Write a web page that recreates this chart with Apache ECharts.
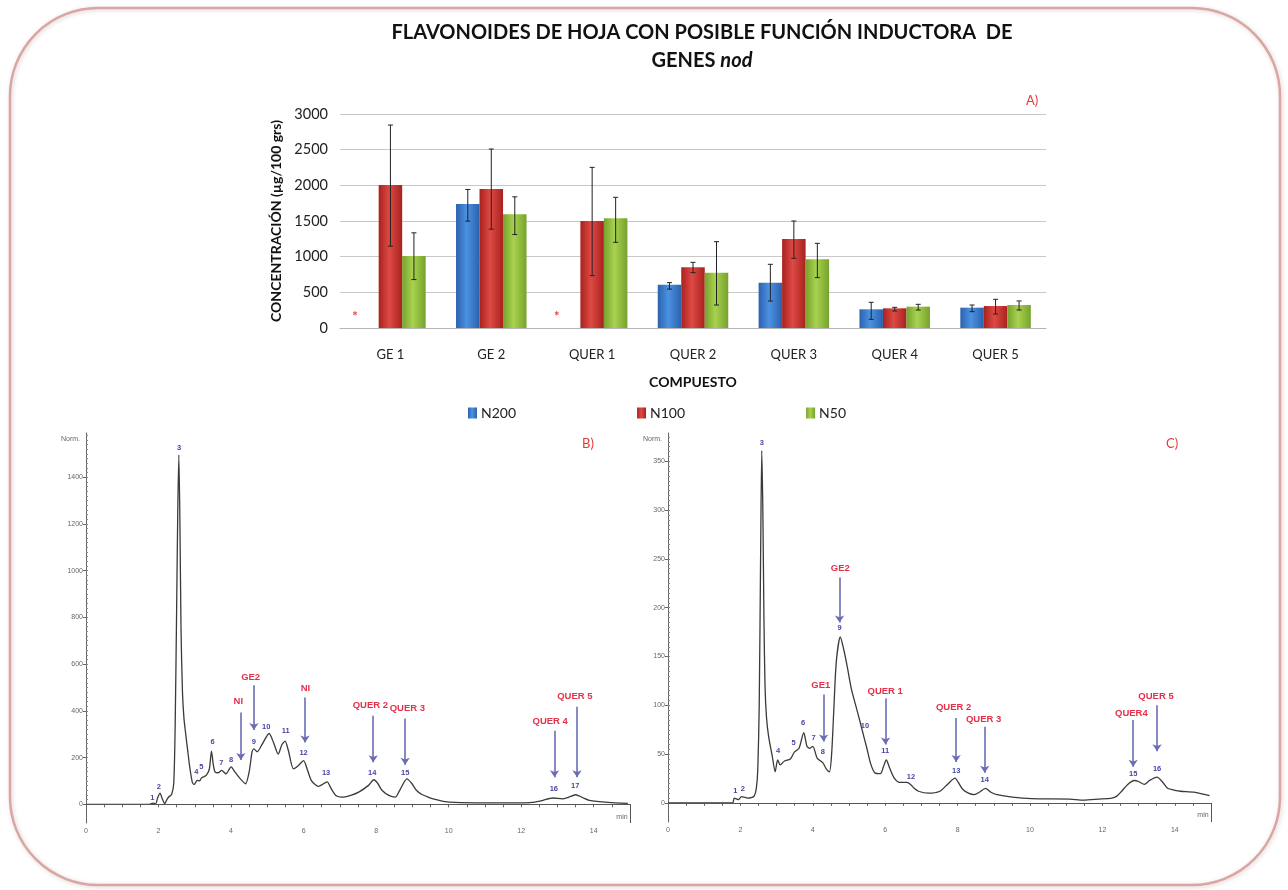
<!DOCTYPE html>
<html><head><meta charset="utf-8">
<script src="https://cdn.jsdelivr.net/npm/echarts@6/dist/echarts.min.js"></script>
<style>html,body{margin:0;padding:0;background:#fff}#c{width:1288px;height:890px}</style>
</head><body><div id="c"></div>
<script>
// ---------- Panel A: bar chart data ----------
const categories = ['GE 1','GE 2','QUER 1','QUER 2','QUER 3','QUER 4','QUER 5'];
const seriesNames = ['N200','N100','N50'];
const n200     = [null,1740,null, 605, 636,262,285];
const n200Low  = [null,1498,null, 545, 378,121,229];
const n200High = [null,1942,null, 636, 893,360,322];
const n100     = [2005,1950,1500, 850,1248,276,308];
const n100Low  = [1147,1385, 734, 776, 977,238,196];
const n100High = [2845,2509,2252, 920,1500,290,402];
const n50      = [1010,1595,1537, 776, 963,299,322];
const n50Low   = [ 679,1310,1201, 322, 706,252,252];
const n50High  = [1334,1839,1832,1210,1187,332,379];
const notDetected = [180,null,180,null,null,null,null]; // red asterisk (N200 absent)
const barYTicks = {min:0, max:3000, interval:500};

// ---------- Panel B: chromatogram (time min, Norm.) ----------
const traceB = [[0,0],[1.75,0],[1.85,5],[1.92,2],[1.98,30],[2.04,48],[2.1,25],[2.17,3],[2.23,20],[2.28,31],[2.36,42],[2.42,90],[2.46,350],[2.5,850],[2.53,1250],[2.56,1495],[2.59,1200],[2.62,750],[2.66,480],[2.7,370],[2.75,300],[2.8,235],[2.86,160],[2.93,95],[2.98,85],[3.07,102],[3.13,100],[3.18,112],[3.25,118],[3.32,125],[3.4,150],[3.46,228],[3.51,170],[3.56,138],[3.65,135],[3.74,145],[3.86,130],[4.0,160],[4.1,140],[4.25,110],[4.4,88],[4.5,140],[4.58,225],[4.63,237],[4.72,225],[4.85,255],[5.05,303],[5.18,260],[5.3,215],[5.4,255],[5.49,270],[5.58,230],[5.72,152],[5.85,165],[6.0,187],[6.1,150],[6.22,100],[6.41,77],[6.55,88],[6.65,96],[6.75,70],[6.89,38],[7.1,31],[7.3,38],[7.52,52],[7.79,81],[7.94,105],[8.05,88],[8.16,60],[8.35,38],[8.53,31],[8.65,60],[8.85,109],[8.98,90],[9.11,60],[9.25,43],[9.43,31],[9.6,22],[9.85,13],[10.17,8],[11.0,6],[11.97,6],[12.3,8],[12.6,17],[12.87,27],[13.14,23],[13.3,30],[13.5,41],[13.68,30],[13.88,17],[14.4,8],[14.94,4]];
const peaksB = [[1.83,28,'1'],[2.01,74,'2'],[2.57,1523,'3'],[3.04,138,'4'],[3.18,159,'5'],[3.49,268,'6'],[3.73,177,'7'],[4.0,191,'8'],[4.63,269,'9'],[4.97,333,'10'],[5.51,312,'11'],[6.0,220,'12'],[6.62,135,'13'],[7.89,133,'14'],[8.8,133,'15'],[12.9,64,'16'],[13.49,77,'17']];
const namesB = [[4.2,442,'NI'],[4.54,545,'GE2'],[6.05,495,'NI'],[7.84,422,'QUER 2'],[8.86,409,'QUER 3'],[12.8,355,'QUER 4'],[13.48,462,'QUER 5']];
const arrowsB = [[4.27,393,190],[4.63,509,318],[6.04,457,265],[7.92,379,180],[8.8,367,169],[12.92,315,116],[13.54,417,116]];
const yTicksB = [0,200,400,600,800,1000,1200,1400];

// ---------- Panel C: chromatogram ----------
const traceC = [[0,0],[1.78,0],[1.83,5],[1.9,4],[1.95,3.5],[2.03,6.5],[2.1,6],[2.2,5],[2.3,5.5],[2.38,7],[2.44,15],[2.48,34],[2.52,100],[2.56,260],[2.59,361],[2.62,300],[2.65,190],[2.68,120],[2.72,88],[2.78,68],[2.88,48],[2.96,32],[3.03,44],[3.1,39],[3.22,43],[3.38,45],[3.49,52],[3.62,56],[3.75,72],[3.84,58],[3.92,56],[4.0,58],[4.12,46],[4.28,41],[4.37,35],[4.46,32],[4.52,50],[4.58,95],[4.65,145],[4.76,170],[4.85,158],[4.95,140],[5.07,116],[5.2,98],[5.3,84],[5.41,68],[5.5,55],[5.6,40],[5.71,31],[5.87,30],[5.95,37],[6.03,44],[6.12,36],[6.24,26],[6.4,21],[6.6,21],[6.7,19],[6.8,15],[6.92,12],[7.19,10],[7.51,12],[7.72,19],[7.93,25.5],[8.02,21],[8.14,14],[8.3,10],[8.46,8.5],[8.6,11],[8.77,15],[8.92,11],[9.09,8.5],[9.51,6],[10.04,4.4],[11.1,4],[11.47,3],[11.9,4],[12.26,5],[12.4,7],[12.53,12],[12.7,19],[12.88,23],[13.0,22],[13.16,19],[13.3,23],[13.51,26.5],[13.65,22],[13.8,15],[14.0,13],[14.16,12],[14.53,11],[14.96,7.5]];
const peaksC = [[1.86,12.6,'1'],[2.07,14.3,'2'],[2.59,369,'3'],[3.04,53,'4'],[3.47,62,'5'],[3.73,82,'6'],[4.02,67,'7'],[4.28,52,'8'],[4.74,179,'9'],[5.44,79,'10'],[6.0,53,'11'],[6.71,27,'12'],[7.96,33,'13'],[8.75,24,'14'],[12.85,30,'15'],[13.51,35,'16']];
const namesC = [[4.76,240,'GE2'],[4.22,120,'GE1'],[6.0,114,'QUER 1'],[7.89,98,'QUER 2'],[8.72,86,'QUER 3'],[12.8,92,'QUER4'],[13.48,109,'QUER 5']];
const arrowsC = [[4.74,231,185],[4.3,111,63],[6.01,107,60],[7.96,87,42],[8.75,78,31],[12.85,85,37],[13.51,100,53]];
const yTicksC = [0,50,100,150,200,250,300,350];

const xTicksChrom = [0,2,4,6,8,10,12,14];
const xMinorChrom = Array.from({length:31},(_,i)=>i*0.5);
const yMinorB = Array.from({length:80},(_,i)=>i*20);
const yMinorC = Array.from({length:76},(_,i)=>i*5);

// ---------- styling ----------
const BAR_W = 23.5;
const FONT = 'Lato, "Open Sans", sans-serif';
const barColors = [
  ['#2a62ad','#4c92e2'],
  ['#a8211f','#de4a44'],
  ['#76a22e','#a8d24e']
];
function grad(c){
  return new echarts.graphic.LinearGradient(0,0,1,0,[
    {offset:0,color:c[0]},{offset:0.45,color:c[1]},{offset:1,color:c[0]}]);
}
const chart = echarts.init(document.getElementById('c'), null, {renderer:'canvas'});

const vals = [n200,n100,n50], lows=[n200Low,n100Low,n50Low], highs=[n200High,n100High,n50High];
const barSeries = seriesNames.map((nm,k)=>({
  name:nm, type:'bar', xAxisIndex:0, yAxisIndex:0,
  barWidth:BAR_W, barGap:'0%',
  itemStyle:{color:grad(barColors[k])},
  data: vals[k], z:2
}));
const errSeries = seriesNames.map((nm,k)=>({
  type:'custom', xAxisIndex:0, yAxisIndex:0, z:5, silent:true,
  encode:{x:0,y:[1,2]},
  data: categories.map((c,i)=> highs[k][i]==null?null:[i,lows[k][i],highs[k][i]]).filter(d=>d),
  renderItem(params, api){
    const i = api.value(0);
    const pH = api.coord([i, api.value(2)]), pL = api.coord([i, api.value(1)]);
    const x = pH[0] + (k-1)*BAR_W;
    const st = {stroke:'#222', lineWidth:1};
    return {type:'group', children:[
      {type:'line', shape:{x1:x,y1:pH[1],x2:x,y2:pL[1]}, style:st},
      {type:'line', shape:{x1:x-2.5,y1:pH[1],x2:x+2.5,y2:pH[1]}, style:st},
      {type:'line', shape:{x1:x-2.5,y1:pL[1],x2:x+2.5,y2:pL[1]}, style:st}
    ]};
  }
}));
const astSeries = {
  type:'custom', xAxisIndex:0, yAxisIndex:0, z:5, silent:true,
  encode:{x:0,y:1},
  data: categories.map((c,i)=> notDetected[i]==null?null:[i,notDetected[i]]).filter(d=>d),
  renderItem(params, api){
    const p = api.coord([api.value(0), api.value(1)]);
    return {type:'text', style:{text:'*', x:p[0]-BAR_W-12, y:p[1]+2, fill:'#e8403c', font:'bold 13px '+FONT, align:'center', verticalAlign:'middle'}};
  }
};

function textSeries(ax, ay, data, color, size){
  return {type:'custom', xAxisIndex:ax, yAxisIndex:ay, z:6, silent:true,
    encode:{x:0,y:1},
    data:data,
    renderItem(params, api){
      const p = api.coord([api.value(0), api.value(1)]);
      return {type:'text', style:{text:data[params.dataIndex][2], x:p[0], y:p[1],
        fill:color, font:'bold '+size+'px "Liberation Sans", Arial, sans-serif',
        align:'center', verticalAlign:'middle'}};
    }};
}

function chromSeries(gi, trace, peaks, names, arrows, xMax, yMin){
  const ax = gi;
  const ay = gi===1 ? 1 : 3;
  return [
    {type:'line', xAxisIndex:ax, yAxisIndex:ay, data:trace, symbol:'none', smooth:0.25,
     lineStyle:{color:'#3a3a3a', width:1.3}, z:3, silent:true,
     markLine:{silent:true, symbol:'none', label:{show:false},
       lineStyle:{color:'#555', width:1, type:'solid'},
       data:[{yAxis:0}, [{coord:[xMax,0]},{coord:[xMax,yMin]}]]}},
    {type:'lines', coordinateSystem:'cartesian2d', xAxisIndex:ax, yAxisIndex:ay, z:4, silent:true,
     symbol:['none','arrow'], symbolSize:7,
     lineStyle:{color:'#6c6cb4', width:1.6, opacity:1},
     data: arrows.map(a=>({coords:[[a[0],a[1]],[a[0],a[2]]]}))},
    textSeries(ax, ay, peaks, '#4646a6', 7.5),
    textSeries(ax, ay, names, '#e5304a', 9.5)
  ];
}

const smallTxt = {fontSize:7, color:'#666', fontFamily:'"Liberation Sans", Arial, sans-serif'};
const plain = v => String(v);
function chromX(gi){
  return {type:'value', gridIndex:gi, min:0, max:15,
    name:'min', nameLocation:'end', nameGap:-8,
    nameTextStyle:Object.assign({}, smallTxt, {align:'center', verticalAlign:'top', padding:[9,0,0,0]}),
    axisLine:{show:true, lineStyle:{color:'#666', width:1}},
    axisTick:{show:true, customValues:xMinorChrom, length:3, lineStyle:{color:'#666'}},
    axisLabel:Object.assign({customValues:xTicksChrom, margin:5, formatter:plain}, smallTxt),
    splitLine:{show:false}};
}
function chromY(gi, min, max, ticks){
  return {type:'value', gridIndex:gi, min:min, max:max, position:'left',
    name:'Norm.', nameLocation:'end', nameGap:-10,
    nameTextStyle:Object.assign({}, smallTxt, {align:'right', padding:[0,6,0,0]}),
    axisLine:{show:true, lineStyle:{color:'#666', width:1}},
    axisTick:{show:true, customValues:ticks, length:3, lineStyle:{color:'#666'}},
    axisLabel:Object.assign({customValues:ticks, margin:3, formatter:plain}, smallTxt),
    splitLine:{show:false}};
}
function chromYMinor(gi, min, max, ticks){
  return {type:'value', gridIndex:gi, min:min, max:max, position:'left', offset:0,
    axisLine:{show:false}, axisLabel:{show:false}, splitLine:{show:false},
    axisTick:{show:true, inside:true, customValues:ticks, length:2, lineStyle:{color:'#888'}}};
}

const option = {
  backgroundColor:'#ffffff',
  animation:false,
  textStyle:{fontFamily:FONT},
  title:{
    left:697, top:14, textAlign:'center',
    text:'{b|FLAVONOIDES DE HOJA CON POSIBLE FUNCIÓN INDUCTORA  DE}\n{b|GENES }{i|nod}',
    textStyle:{rich:{
      b:{fontSize:20, fontWeight:'bold', color:'#111', fontFamily:FONT, lineHeight:28},
      i:{fontSize:20, fontWeight:'bold', fontStyle:'italic', color:'#111', fontFamily:FONT, lineHeight:28}
    }}
  },
  legend:{
    data:seriesNames, left:463, top:401, itemGap:121, itemWidth:9, itemHeight:11, icon:'rect',
    textStyle:{fontSize:14, color:'#222', fontFamily:FONT, padding:[0,0,0,-1]}
  },
  grid:[
    {left:340, top:114, width:706, height:214},
    {left:86, top:433, width:544, height:390},
    {left:668, top:433, width:543, height:389}
  ],
  xAxis:[
    {type:'category', gridIndex:0, data:categories,
     axisLine:{show:true, lineStyle:{color:'#b5b5b5'}}, axisTick:{show:false},
     axisLabel:{fontSize:13, color:'#222', margin:20, fontFamily:FONT},
     name:'COMPUESTO', nameLocation:'middle', nameGap:47,
     nameTextStyle:{fontSize:14, fontWeight:'bold', color:'#111', fontFamily:FONT}},
    chromX(1), chromX(2)
  ],
  yAxis:[
    {type:'value', gridIndex:0, min:barYTicks.min, max:barYTicks.max, interval:barYTicks.interval,
     axisLine:{show:false}, axisTick:{show:false},
     axisLabel:{fontSize:14.5, color:'#222', margin:12, fontFamily:FONT, formatter:plain},
     splitLine:{lineStyle:{color:'#c8c8c8', width:1}},
     name:'CONCENTRACIÓN (µg/100 grs)', nameLocation:'middle', nameGap:56, nameRotate:90,
     nameTextStyle:{fontSize:14, fontWeight:'bold', color:'#111', fontFamily:FONT}},
    chromY(1, -80, 1589, yTicksB),
    chromYMinor(1, -80, 1589, yMinorB),
    chromY(2, -19.5, 379, yTicksC),
    chromYMinor(2, -19.5, 379, yMinorC)
  ],
  graphic:[
    {type:'rect', shape:{x:10, y:8, width:1270, height:877, r:88}, z:-10, silent:true,
     style:{fill:'none', stroke:'#d9a6a3', lineWidth:2.5, shadowBlur:4, shadowColor:'rgba(120,60,60,0.25)', shadowOffsetX:1, shadowOffsetY:1}},
    {type:'text', left:1026, top:94, style:{text:'A)', fill:'#e23b3b', font:'13px '+FONT}},
    {type:'text', left:582, top:437, style:{text:'B)', fill:'#e23b3b', font:'13px '+FONT}},
    {type:'text', left:1166, top:437, style:{text:'C)', fill:'#e23b3b', font:'13px '+FONT}}
  ],
  series:[
    ...barSeries, ...errSeries, astSeries,
    ...chromSeries(1, traceB, peaksB, namesB, arrowsB, 15, -80),
    ...chromSeries(2, traceC, peaksC, namesC, arrowsC, 15, -19.5)
  ]
};
chart.setOption(option);
</script></body></html>
